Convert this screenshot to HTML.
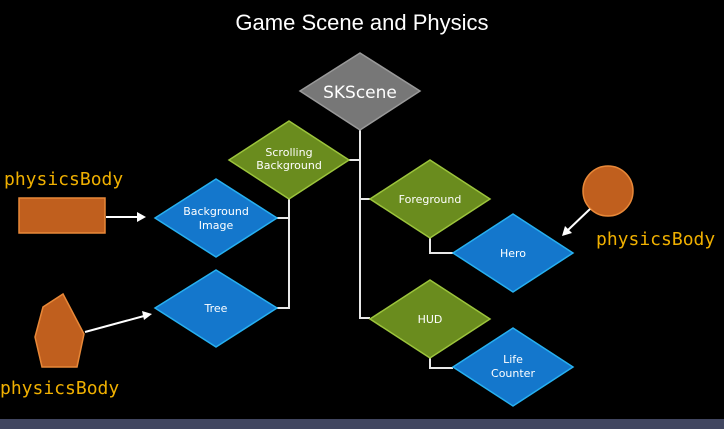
<!DOCTYPE html>
<html><head><style>
html,body{margin:0;padding:0;background:#000;}
svg{display:block}
</style></head><body>
<svg width="724" height="429" viewBox="0 0 724 429" xmlns="http://www.w3.org/2000/svg">
<rect width="724" height="429" fill="#000"/>
<rect x="0" y="419" width="724" height="10" fill="#414660"/>
<text x="362" y="30" fill="#fff" font-family="Liberation Sans, DejaVu Sans, sans-serif" font-size="22" text-anchor="middle">Game Scene and Physics</text>
<g stroke="#e8e8e8" stroke-width="2" fill="none">
<polyline points="360,130 360,318 370,318"/>
<line x1="349" y1="160" x2="360" y2="160"/>
<line x1="360" y1="199" x2="370" y2="199"/>
<polyline points="289,199 289,308 277,308"/>
<line x1="277" y1="218" x2="289" y2="218"/>
<polyline points="430,238 430,253 453,253"/>
<polyline points="430,358 430,368 453,368"/>
</g>
<g font-family="DejaVu Sans, Liberation Sans, sans-serif" fill="#fff" text-anchor="middle">
<polygon points="300,91 360,53 420,91 360,130" fill="#777" stroke="#999" stroke-width="1.5"/>
<text x="360" y="98" font-size="17" fill="#fff">SKScene</text>
<polygon points="229,160 289,121 349,160 289,199" fill="#6a8c1e" stroke="#9cc43c" stroke-width="1.5"/>
<text x="289" y="156" font-size="11">Scrolling</text><text x="289" y="169" font-size="11">Background</text>
<polygon points="155,218 216,179 277,218 216,257" fill="#1477cc" stroke="#27b0f0" stroke-width="1.5"/>
<text x="216" y="215" font-size="11">Background</text><text x="216" y="229" font-size="11">Image</text>
<polygon points="155,308 216,270 277,308 216,347" fill="#1477cc" stroke="#27b0f0" stroke-width="1.5"/>
<text x="216" y="312" font-size="11">Tree</text>
<polygon points="370,199 430,160 490,199 430,238" fill="#6a8c1e" stroke="#9cc43c" stroke-width="1.5"/>
<text x="430" y="203" font-size="11">Foreground</text>
<polygon points="453,253 513,214 573,253 513,292" fill="#1477cc" stroke="#27b0f0" stroke-width="1.5"/>
<text x="513" y="257" font-size="11">Hero</text>
<polygon points="370,319 430,280 490,319 430,358" fill="#6a8c1e" stroke="#9cc43c" stroke-width="1.5"/>
<text x="430" y="323" font-size="11">HUD</text>
<polygon points="453,367 513,328 573,367 513,406" fill="#1477cc" stroke="#27b0f0" stroke-width="1.5"/>
<text x="513" y="363" font-size="11">Life</text><text x="513" y="377" font-size="11">Counter</text>
</g>
<rect x="19" y="198" width="86" height="35" fill="#c05f1e" stroke="#e88838" stroke-width="1.5"/>
<polygon points="63,294 43,307 35,337 42,367 77,367 84,334" fill="#c05f1e" stroke="#e88838" stroke-width="1.5"/>
<circle cx="608" cy="191" r="25" fill="#c05f1e" stroke="#e88838" stroke-width="1.5"/>
<g stroke="#fff" stroke-width="2" fill="#fff">
<line x1="106" y1="217" x2="138" y2="217"/><polygon points="146,217 137,212 137,222" stroke="none"/>
<line x1="85" y1="332" x2="144" y2="316"/><polygon points="152,314 142,311 144,320" stroke="none"/>
<line x1="590" y1="209" x2="568" y2="230"/><polygon points="562,236 565,226 572,233" stroke="none"/>
</g>
<g font-family="DejaVu Sans Mono, Liberation Mono, monospace" font-size="18" fill="#f0b000">
<text x="4" y="185">physicsBody</text>
<text x="596" y="245">physicsBody</text>
<text x="0" y="394">physicsBody</text>
</g>
</svg>
</body></html>
